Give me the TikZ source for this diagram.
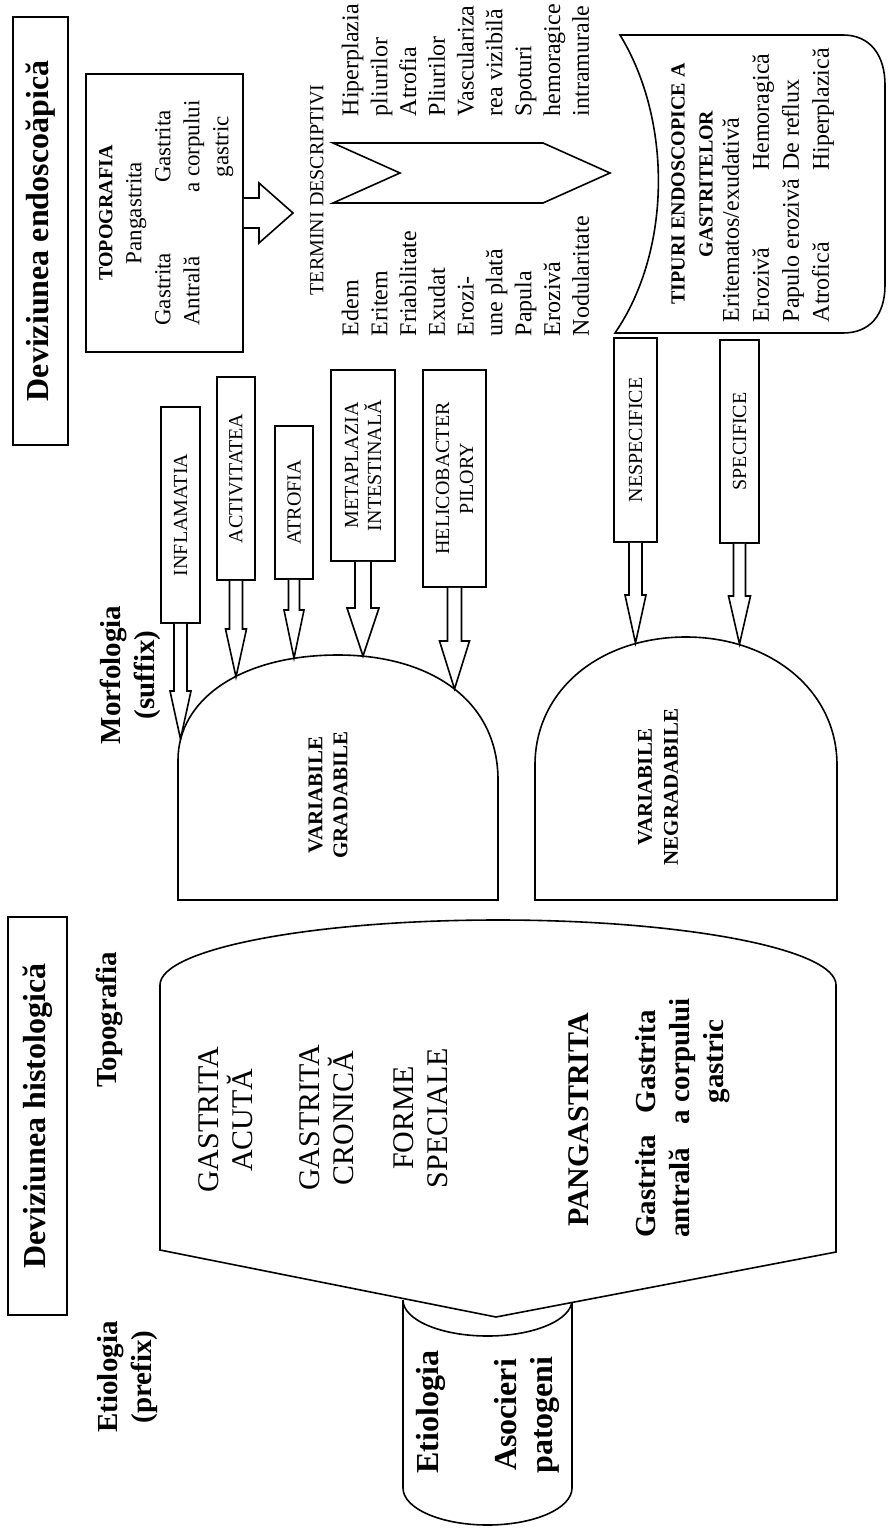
\documentclass[tikz,border=0pt]{standalone}
\usepackage{fontspec}
\setmainfont{Liberation Serif}
\usetikzlibrary{calc}

\tikzset{
  header/.style={draw, line width=1.1pt, rotate=90, inner sep=0pt,
    font=\bfseries\fontsize{16}{19}\selectfont},
  vbox/.style={draw, rotate=90, inner sep=0pt, align=center,
    font=\fontsize{10}{11.5}\selectfont},
  vtext/.style={rotate=90, inner sep=0pt},
  sidelbl/.style={vtext, align=center, font=\bfseries\fontsize{14.5}{17}\selectfont},
}

% block arrow: shaft half width, head half width, box end, tip
\newcommand{\blockarrow}[4]{%
  \draw[fill=white] ($(#3)+(-#1,0)$) -- ($(#4)+(-#1,-48)$) -- ($(#4)+(-#2,-48)$) -- (#4)
    -- ($(#4)+(#2,-48)$) -- ($(#4)+(#1,-48)$) -- ($(#3)+(#1,0)$);
}

\begin{document}
\begin{tikzpicture}[x=0.5pt, y=-0.5pt, line width=0.8pt]
\useasboundingbox (0,0) rectangle (888,1535);
\clip (0,0) rectangle (888,1535);

% headers
\node[header, minimum width=214pt, minimum height=27.5pt] (endo) at (40.5,231) {Deviziunea endoscoăpică};
\node[header, minimum width=199pt, minimum height=29.5pt] (histo) at (37.5,1116) {Deviziunea histologică};

% side labels
\node[sidelbl] (morfo) at (130,675) {Morfologia\\(suffix)};
\node[sidelbl] (topolbl) at (109,1020) {Topografia};
\node[sidelbl] (etiolbl) at (128,1377) {Etiologia\\(prefix)};

% endoscopic topography
\node[draw, rotate=90, inner sep=0pt, minimum width=139pt, minimum height=78.5pt,
  font=\fontsize{11.5}{14.5}\selectfont] (topo) at (164.5,213) {%
  \begin{tabular}{@{}l@{\hspace{30pt}}c@{}}
  \multicolumn{2}{c}{\bfseries\fontsize{10}{14.5}\selectfont TOPOGRAFIA}\\
  \multicolumn{2}{c}{Pangastrita}\\
  Gastrita & Gastrita\\
  Antrală & a corpului\\
   & gastric
  \end{tabular}};
\coordinate (termtip) at (293,213);
\draw[fill=white] ($(topo.south)+(0,-15)$) -- ($(termtip)+(-34,-15)$) -- ($(termtip)+(-34,-30)$)
  -- (termtip) -- ($(termtip)+(-34,30)$) -- ($(termtip)+(-34,15)$) -- ($(topo.south)+(0,15)$);

% descriptive terms
\node[vtext, font=\fontsize{10}{12}\selectfont] (termeni) at (317,190) {TERMINI DESCRIPTIVI};
\draw (333,143) -- (543,143) -- (610,173) -- (543,203) -- (333,203) -- (400,173) -- cycle;
\node[vtext, anchor=north west, align=left, font=\fontsize{12}{14.4}\selectfont] (termsA) at (341,337)
  {Edem\\Eritem\\Friabilitate\\Exudat\\Erozi-\\une plată\\Papula\\Erozivă\\Nodularitate};
\node[vtext, anchor=north west, align=left, font=\fontsize{12}{14.4}\selectfont] (termsB) at (341,117)
  {Hiperplazia\\pliurilor\\Atrofia\\Pliurilor\\Vasculariza\\rea vizibilă\\Spoturi\\hemoragice\\intramurale};

% endoscopic types
\draw (620,35) -- (843,35) .. controls (870,35) and (885,55) .. (885,85) -- (885,285)
  .. controls (885,315) and (870,333) .. (843,333) -- (615,333)
  .. controls (672,250) and (672,120) .. (620,35) -- cycle;
\node[vtext, align=center, font=\bfseries\fontsize{10}{14}\selectfont] (tiptitle) at (692,184)
  {TIPURI ENDOSCOPICE A\\GASTRITELOR};
\node[vtext, anchor=north west, font=\fontsize{12}{15}\selectfont] (tiplist) at (717,323) {%
  \begin{tabular}{@{}l@{\hspace{4pt}}l@{}}
  \multicolumn{2}{@{}l@{}}{Eritematos/exudativă}\\
  Erozivă & Hemoragică\\
  Papulo erozivă & De reflux\\
  Atrofică & Hiperplazică
  \end{tabular}};

% gradable variables
\draw (178,900) -- (178,760) .. controls (178,700) and (240,655) .. (338,655)
  .. controls (430,655) and (498,700) .. (498,780) -- (498,900) -- cycle;
\node[vtext, align=center, font=\bfseries\fontsize{10.5}{12.5}\selectfont] (gradab) at (328,795) {VARIABILE\\GRADABILE};

\node[vbox, minimum width=108pt, minimum height=19.5pt] (infl) at (180.5,515) {INFLAMATIA};
\node[vbox, minimum width=101.5pt, minimum height=19pt] (activ) at (236,478.5) {ACTIVITATEA};
\node[vbox, minimum width=76.5pt, minimum height=19pt] (atrof) at (294,502.5) {ATROFIA};
\node[vbox, minimum width=95.5pt, minimum height=32pt] (metap) at (363,465.5) {METAPLAZIA\\INTESTINALĂ};
\node[vbox, minimum width=108.5pt, minimum height=31.5pt, font=\fontsize{10}{12}\selectfont] (helic) at (454.5,478.5) {HELICOBACTER\\PILORY};

\coordinate (tinfl) at (180.5,739);
\coordinate (tactiv) at (236,677);
\coordinate (tatrof) at (294,658);
\coordinate (tmetap) at (363,656);
\coordinate (thelic) at (454.5,689);
\blockarrow{6.5}{10.5}{infl.west}{tinfl}
\blockarrow{6.5}{10.5}{activ.west}{tactiv}
\blockarrow{5.5}{10}{atrof.west}{tatrof}
\blockarrow{8}{16}{metap.west}{tmetap}
\blockarrow{7}{15}{helic.west}{thelic}

% non gradable variables
\draw (535,900) -- (535,765) .. controls (535,690) and (600,637) .. (686,637)
  .. controls (770,637) and (837,690) .. (837,765) -- (837,900) -- cycle;
\node[vtext, align=center, font=\bfseries\fontsize{10.5}{13}\selectfont] (negrad) at (658,787) {VARIABILE\\NEGRADABILE};

\node[vbox, minimum width=102pt, minimum height=21.5pt] (nesp) at (635.5,440) {NESPECIFICE};
\node[vbox, minimum width=101.5pt, minimum height=19.5pt] (spec) at (739.5,441.5) {SPECIFICE};
\coordinate (tnesp) at (635.5,643);
\coordinate (tspec) at (739.5,644);
\blockarrow{6.5}{10.5}{nesp.west}{tnesp}
\blockarrow{6}{11}{spec.west}{tspec}

% etiology cylinder
\draw (403,1300) -- (403,1488) arc[start angle=180, end angle=0, x radius=84.5, y radius=37]
  -- (572,1300) arc[start angle=0, end angle=180, x radius=84.5, y radius=36];
\node[vtext, font=\bfseries\fontsize{16}{18}\selectfont] (etio) at (431,1412) {Etiologia};
\node[vtext, align=center, font=\bfseries\fontsize{16}{18}\selectfont] (asoc) at (527,1415) {Asocieri\\patogeni};

% histological topography
\draw[fill=white] (160,1250) -- (160,985) arc[start angle=180, end angle=360, x radius=338, y radius=65]
  -- (836,1252) -- (496,1317) -- cycle;
\node[vtext, align=center, font=\fontsize{15}{17}\selectfont] (acuta) at (226,1120) {GASTRITA\\ACUTĂ};
\node[vtext, align=center, font=\fontsize{15}{17}\selectfont] (cronica) at (327,1118) {GASTRITA\\CRONICĂ};
\node[vtext, align=center, font=\fontsize{15}{17}\selectfont] (forme) at (421,1118) {FORME\\SPECIALE};
\node[vtext, font=\bfseries\fontsize{15}{17}\selectfont] (pang) at (579,1120) {PANGASTRITA};
\node[vtext, font=\bfseries\fontsize{14.5}{17}\selectfont] (gastr) at (683,1118) {%
  \begin{tabular}{@{}l@{\hspace{5pt}}c@{}}
  Gastrita & Gastrita\\
  antrală & a corpului\\
   & gastric
  \end{tabular}};
\end{tikzpicture}
\end{document}
